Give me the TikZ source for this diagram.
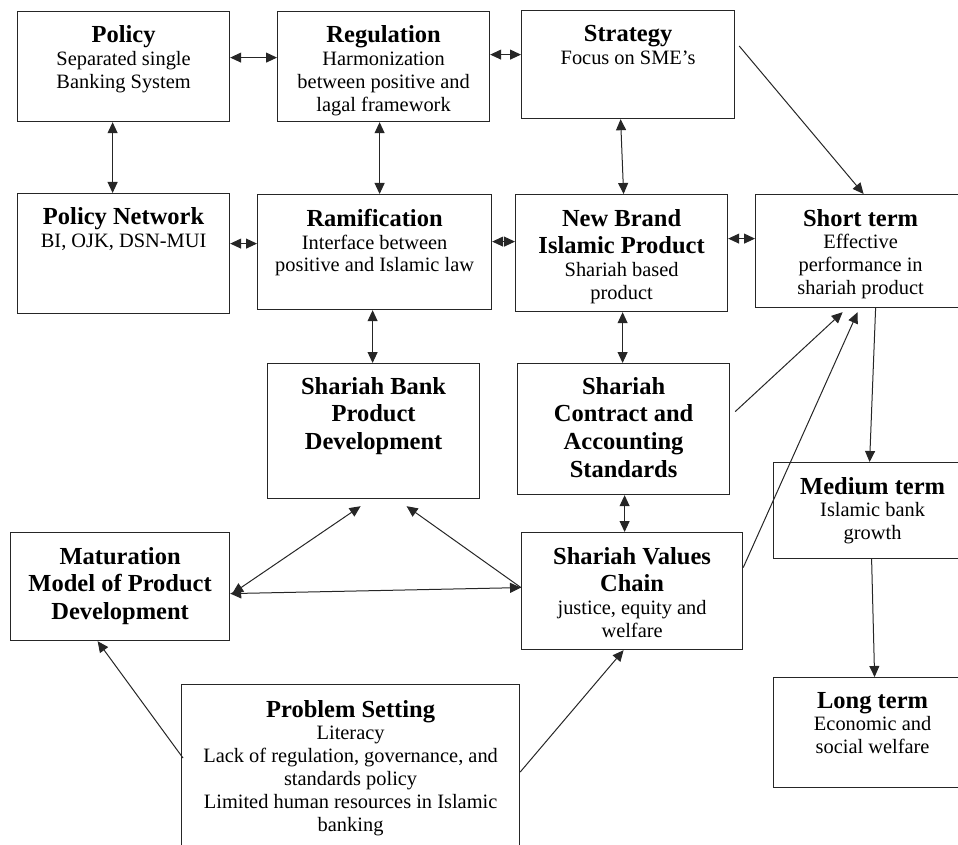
\documentclass[tikz,border=0pt]{standalone}
\usepackage{fontspec}
\setmainfont{Liberation Serif}
\usepackage{tikz}
\usetikzlibrary{positioning,arrows.meta}

\newcommand{\ttl}[1]{{\fontsize{24.5}{28}\selectfont\bfseries #1}}

\begin{document}
\begin{tikzpicture}[x=1pt, y=-1pt,
	box/.style={draw=black!85, line width=1.2pt, anchor=north west, inner sep=0pt},
	txt/.style={align=center, inner sep=0pt, outer sep=0pt, font=\fontsize{20.4}{22.8}\selectfont},
	link/.style={draw=black!85, line width=1pt, -{Triangle[length=11pt,width=10pt]}},
	both/.style={link, {Triangle[length=11pt,width=10pt]}-{Triangle[length=11pt,width=10pt]}}]
		\useasboundingbox (0,0) rectangle (958,845);

		\node[box, minimum width=212pt, minimum height=110pt] (policy) at (17,11) {};
		\node[txt, below=15pt of policy.north] (policy-t) {\ttl{Policy}\\Separated single\\Banking System};
		\node[box, minimum width=212pt, minimum height=110pt] (regul) at (277,11) {};
		\node[txt, below=15pt of regul.north] (regul-t) {\ttl{Regulation}\\Harmonization\\between positive and\\lagal framework};
		\node[box, minimum width=213pt, minimum height=108pt] (strat) at (521,10) {};
		\node[txt, below=15pt of strat.north] (strat-t) {\ttl{Strategy}\\Focus on SME’s};

		\node[box, minimum width=212pt, minimum height=120pt] (pnet) at (17,193) {};
		\node[txt, below=15pt of pnet.north] (pnet-t) {\ttl{Policy Network}\\BI, OJK, DSN-MUI};
		\node[box, minimum width=234pt, minimum height=115pt] (ramif) at (257,194) {};
		\node[txt, below=15pt of ramif.north] (ramif-t) {\ttl{Ramification}\\Interface between\\positive and Islamic law};
		\node[box, minimum width=212pt, minimum height=117pt] (newbr) at (515,194) {};
		\node[txt, below=15pt of newbr.north] (newbr-t) {\ttl{New Brand}\\[5pt]\ttl{Islamic Product}\\Shariah based\\product};
		\node[box, minimum width=210pt, minimum height=113pt] (short) at (755,194) {};
		\node[txt, below=15pt of short.north] (short-t) {\ttl{Short term}\\Effective\\performance in\\shariah product};

		\node[box, minimum width=212pt, minimum height=135pt] (sbpd) at (267,363) {};
		\node[txt, below=14pt of sbpd.north] (sbpd-t) {\ttl{Shariah Bank}\\[5pt]\ttl{Product}\\[5pt]\ttl{Development}};
		\node[box, minimum width=212pt, minimum height=131pt] (scas) at (517,363) {};
		\node[txt, below=14pt of scas.north] (scas-t) {\ttl{Shariah}\\[5pt]\ttl{Contract and}\\[5pt]\ttl{Accounting}\\[5pt]\ttl{Standards}};
		\node[box, minimum width=198pt, minimum height=96pt] (medium) at (773,462) {};
		\node[txt, below=15pt of medium.north] (medium-t) {\ttl{Medium term}\\Islamic bank\\growth};

		\node[box, minimum width=219pt, minimum height=108pt] (matur) at (10,532) {};
		\node[txt, below=15pt of matur.north] (matur-t) {\ttl{Maturation}\\[5pt]\ttl{Model of Product}\\[5pt]\ttl{Development}};
		\node[box, minimum width=221pt, minimum height=117pt] (svc) at (521,532) {};
		\node[txt, below=15pt of svc.north] (svc-t) {\ttl{Shariah Values}\\[5pt]\ttl{Chain}\\justice, equity and\\welfare};
		\node[box, minimum width=198pt, minimum height=110pt] (long) at (773,677) {};
		\node[txt, below=15pt of long.north] (long-t) {\ttl{Long term}\\Economic and\\social welfare};
		\node[box, minimum width=338pt, minimum height=200pt] (probs) at (181,684) {};
		\node[txt, below=16pt of probs.north] (probs-t) {\ttl{Problem Setting}\\Literacy\\Lack of regulation, governance, and\\standards policy\\Limited human resources in Islamic\\banking};

		% top rows
		\draw[both] ([yshift=9pt]policy.east) -- ([yshift=9pt]regul.west);
		\draw[both] ([yshift=12pt]regul.east) -- ([yshift=10pt]strat.west);
		\draw[link] ([xshift=4pt,yshift=-36pt]strat.north east) -- ([xshift=3pt]short.north);
		\draw[both] ([xshift=-11pt]policy.south) -- ([xshift=-11pt]pnet.north);
		\draw[both] ([xshift=-4pt]regul.south) -- ([xshift=5pt]ramif.north);
		\draw[both] ([xshift=-7.5pt]strat.south) -- ([xshift=2pt]newbr.north);
		\draw[both] ([yshift=10pt]pnet.east) -- ([yshift=8.5pt]ramif.west);
		\draw[both] ([yshift=10.5pt]ramif.east) -- ([yshift=11.5pt]newbr.west);
		\draw[both] ([yshift=14.5pt]newbr.east) -- ([yshift=12.5pt]short.west);

		% middle
		\draw[both] ([xshift=-2pt]ramif.south) -- ([xshift=-1pt]sbpd.north);
		\draw[both] ([xshift=1pt]newbr.south) -- ([xshift=-1pt]scas.north);
		\draw[both] ([xshift=1pt]scas.south) -- ([xshift=-7.5pt]svc.north);
		\draw[link] ([xshift=5pt,yshift=17.5pt]scas.east) -- ([xshift=-18pt,yshift=-4pt]short.south);
		\draw[link] ([yshift=23.5pt]svc.east) -- ([xshift=-3pt,yshift=-4pt]short.south);
		\draw[link] ([xshift=15pt]short.south) -- ([xshift=-3pt]medium.north);
		\draw[link] ([xshift=-1pt]medium.south) -- ([xshift=2pt]long.north);

		% lower part
		\draw[both] ([xshift=2pt,yshift=-7pt]matur.east) -- ([xshift=-13pt,yshift=-7pt]sbpd.south);
		\draw[both] ([yshift=-7pt]matur.east) -- ([yshift=3.5pt]svc.west);
		\draw[link] ([yshift=3.5pt]svc.west) -- ([xshift=33pt,yshift=-7pt]sbpd.south);
		\draw[link] ([xshift=2pt,yshift=-74pt]probs.north west) -- ([xshift=-22.5pt]matur.south);
		\draw[link] ([yshift=-88pt]probs.north east) -- ([xshift=-8.5pt]svc.south);
	\end{tikzpicture}
\end{document}
